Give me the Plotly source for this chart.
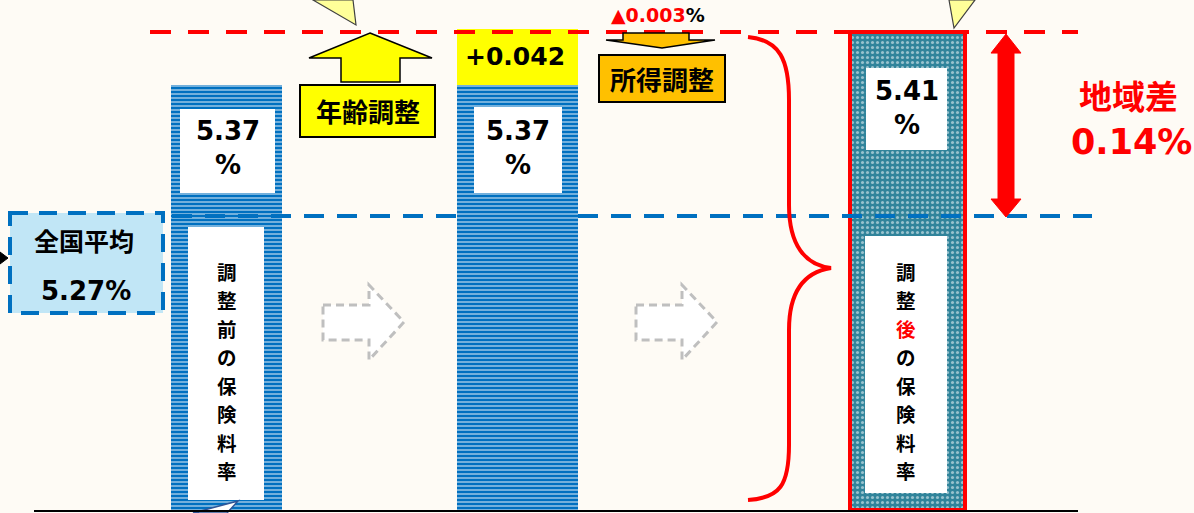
import plotly.graph_objects as go

# ---- data ----
categories = ["調整前の保険料率", "年齢調整後", "調整後の保険料率"]
rates = [5.37, 5.37, 5.41]
age_adjustment = 0.042
income_adjustment = -0.003
national_average = 5.27
regional_gap = 0.14
before_label = "調整前の保険料率"
after_label = "調整後の保険料率"

# ---- layout constants ----
W, H = 1194, 513
Y_TOP, Y_BOTTOM = 5.4344, 5.0440
FLOOR = 5.046
BAR_X = [226, 517, 907.5]
BAR_W = [111, 121, 115]
CJK = "Noto Sans CJK JP"
LAT = "DejaVu Sans, Noto Sans CJK JP"
BG = "#FEFBF5"


def py(v):
    return (Y_TOP - v) / (Y_TOP - Y_BOTTOM) * H


fig = go.Figure()

# bars before / after age adjustment (blue stripes)
fig.add_trace(go.Bar(
    x=BAR_X[:2], y=[r - FLOOR for r in rates[:2]], base=FLOOR, width=BAR_W[:2],
    marker=dict(color="#0070C0", line=dict(width=0),
                pattern=dict(shape="-", fgcolor="white", bgcolor="#0070C0", size=4, solidity=0.45)),
    hoverinfo="skip", showlegend=False))
# age adjustment increment
fig.add_trace(go.Bar(
    x=[BAR_X[1]], y=[age_adjustment], base=[rates[1]], width=[BAR_W[1]],
    marker=dict(color="#FFFF00", line=dict(width=0)), hoverinfo="skip", showlegend=False))
# adjusted rate bar
fig.add_trace(go.Bar(
    x=[BAR_X[2]], y=[rates[2] - FLOOR], base=FLOOR, width=[BAR_W[2]],
    marker=dict(color="#31849B", line=dict(width=4, color="#FF0000"),
                pattern=dict(shape=".", fgcolor="white", bgcolor="#31849B", size=5, solidity=0.3)),
    hoverinfo="skip", showlegend=False))
# invisible trace to anchor pixel overlay axis
fig.add_trace(go.Scatter(x=[0], y=[0], yaxis="y2", mode="markers",
                         marker=dict(opacity=0), hoverinfo="skip", showlegend=False))

shapes = []


def rect(x0, x1, y0, y1, fill, line_color=None, lw=0, dash=None):
    shapes.append(dict(type="rect", xref="x", yref="y2", x0=x0, x1=x1, y0=y0, y1=y1,
                       fillcolor=fill, layer="above",
                       line=dict(color=line_color or fill, width=lw, dash=dash)))


def path(d, fill=None, line_color="black", lw=1.5, dash=None):
    shapes.append(dict(type="path", xref="x", yref="y2", path=d, layer="above",
                       fillcolor=fill if fill else "rgba(0,0,0,0)",
                       line=dict(color=line_color, width=lw, dash=dash)))


# white label boxes inside bars
rect(180, 275, 109, 193, "white")
rect(188, 264, 227, 500, "white")
rect(474, 562, 107, 193, "white")
rect(866, 947, 68, 150, "white")
rect(865, 947, 236, 493, "white")

# national average dashed line (behind middle bar)
ya = national_average
for x0, x1 in [(172, 456), (578, 1092)]:
    shapes.append(dict(type="line", xref="x", yref="y", x0=x0, x1=x1, y0=ya, y1=ya, layer="above",
                       line=dict(color="#0070C0", width=4, dash="20px,13px")))
# adjusted rate red dashed line
shapes.append(dict(type="line", xref="x", yref="y", x0=150, x1=1078, y0=rates[2], y1=rates[2],
                   layer="above", line=dict(color="#FF0000", width=4, dash="21px,17px")))

# national average box
rect(10, 163, 213, 313, "#C1E6F6", "#0070C0", 4, "18px,11px")
path("M0,252 L8,258 L0,264 Z", fill="black", line_color="black", lw=1)

# gray dashed arrows
for dx in (0, 313):
    path(f"M{323+dx},305 L{369+dx},305 L{369+dx},285 L{404+dx},322 L{369+dx},360 "
         f"L{369+dx},340 L{323+dx},340 Z", fill="white", line_color="#BFBFBF", lw=3, dash="8px,5px")

# age adjustment arrow + box
path("M370,33 L432,58 L400,58 L400,82 L341,82 L341,58 L309,58 Z", fill="#FFFF00")
rect(300, 435, 85, 137, "#FFFF00", "black", 2)

# income adjustment arrow + box
path("M623,33 L689,33 L689,40 L715,40 L662,48 L606,40 L623,40 Z", fill="#FFC000")
rect(599, 725, 55, 102, "#FFC000", "black", 2)

# callout tails
path("M313,0 L356,25 L353,0 Z", fill="#FFFF99", line_color="#404040", lw=1.2)
path("M949,0 L954,28 L975,0 Z", fill="#FFFF99", line_color="#404040", lw=1.2)
path("M193,513 L238,501 L227,513 Z", fill="white", line_color="#2F5597", lw=1.5)

# red curly brace
path("M748,37 C780,40 789,60 789,100 L789,205 C789,245 805,265 831,268 "
     "C805,272 789,290 789,330 L789,445 C789,485 780,498 748,500", line_color="#FF0000", lw=4)

# red double arrow showing the regional gap
t, b = py(rates[2]) + 2, py(national_average) + 1
path(f"M1006,{t} L1021,{t+19} L1014,{t+19} L1014,{b-18} L1021,{b-18} L1006,{b} "
     f"L991,{b-18} L998,{b-18} L998,{t+19} L991,{t+19} Z", fill="#FF0000", line_color="#FF0000", lw=1)

# baseline
shapes.append(dict(type="line", xref="x", yref="y2", x0=34, x1=1078, y0=511, y1=511,
                   layer="above", line=dict(color="black", width=2)))

ann = []


def text(x, y, s, size, color="black", family=LAT):
    ann.append(dict(x=x, y=y, xref="x", yref="y2", text=s, showarrow=False,
                    font=dict(family=family, size=size, color=color),
                    xanchor="center", yanchor="middle"))


# rate labels
for cx, cy, r in [(228, 131, rates[0]), (518, 131, rates[1]), (907, 91, rates[2])]:
    text(cx, cy, f"<b>{r:.2f}</b>", 26)
    text(cx, cy + 34, "<b>%</b>", 26)
text(515, 56, f"<b>+{age_adjustment:.3f}</b>", 25)
text(368, 110, "<b>年齢調整</b>", 26, family=CJK)
text(662, 78, "<b>所得調整</b>", 26, family=CJK)
text(658, 15, f"<b><span style='color:#FF0000'>▲{abs(income_adjustment):.3f}</span>%</b>", 19)
text(84, 240, "<b>全国平均</b>", 25, family=CJK)
text(86, 291, f"<b>{national_average:.2f}%</b>", 26)
text(1128, 95, "<b>地域差</b>", 33, "#FF0000", family=CJK)
text(1131, 142, f"<b>{regional_gap:.2f}%</b>", 35, "#FF0000")

# vertical labels, one character per line
PITCH = 28.5
for i, ch in enumerate(before_label):
    text(227, 271 + PITCH * i, f"<b>{ch}</b>", 19.5, family=CJK)
for i, ch in enumerate(after_label):
    text(906, 271 + PITCH * i, f"<b>{ch}</b>", 19.5, "#FF0000" if ch == "後" else "black", family=CJK)

fig.update_layout(
    width=W, height=H, margin=dict(l=0, r=0, t=0, b=0),
    paper_bgcolor=BG, plot_bgcolor=BG, barmode="overlay", bargap=0,
    xaxis=dict(range=[0, W], visible=False, fixedrange=True),
    yaxis=dict(range=[Y_BOTTOM, Y_TOP], visible=False, fixedrange=True),
    yaxis2=dict(range=[H, 0], overlaying="y", visible=False, fixedrange=True),
    shapes=shapes, annotations=ann, showlegend=False,
)

fig.write_html("out.html", config={"displayModeBar": False},
               post_script="document.body.style.margin='0';document.body.style.overflow='hidden';")
